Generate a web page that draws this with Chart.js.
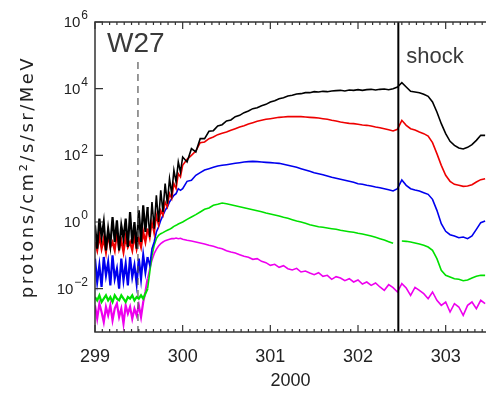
<!DOCTYPE html>
<html>
<head>
<meta charset="utf-8">
<script src="https://cdn.jsdelivr.net/npm/chart.js@4.4.1/dist/chart.umd.min.js"></script>
<style>
  html, body { margin: 0; padding: 0; background: #fff; }
  canvas { display: block; }
</style>
</head>
<body>
<canvas id="fluxChart" width="486" height="394"></canvas>
<script>
// day of year 2000. The noisy start (299.000-299.975) is read every 0.025 day,
// the rest (300.00-303.45) every 0.05 day.
const earlyStart = 299.0;
const earlyStep = 0.025;
const mainStart = 300.0;
const mainStep = 0.05;

// log10 of the proton intensity in each channel
const blackEarly = [
  -0.1, -0.8, 0.1, -0.45, 0.0, -0.85, -0.2, -0.7, 0.15, -0.6,
  0.05, -0.85, -0.1, -0.5, 0.1, -0.75, 0.3, -0.65, 0.0, -0.8,
  0.35, -0.6, 0.5, -0.3, 0.45, -0.45, 0.6, -0.2,
  0.8, 0.0, 0.95, 0.3, 1.15, 0.55, 1.3, 0.85,
  1.55, 1.2, 1.8, 1.5
];
const blackMain = [
  1.95, 1.8, 2.2, 2.1, 2.5, 2.5, 2.72, 2.74, 2.88, 2.92,
  3.03, 3.06, 3.16, 3.2, 3.28, 3.33, 3.4, 3.43, 3.49, 3.53,
  3.6, 3.64, 3.7, 3.73, 3.78, 3.8, 3.84, 3.85, 3.88, 3.88,
  3.91, 3.9, 3.92, 3.91, 3.93, 3.94, 3.95, 3.93, 3.96, 3.95,
  3.97, 3.95, 3.97, 3.98, 3.96, 3.98, 3.99, 3.97, 4.0, 4.05,
  4.18, 4.05, 3.92, 3.9, 3.88, 3.83, 3.77, 3.6, 3.3, 2.95,
  2.65, 2.42, 2.3, 2.22, 2.19, 2.24, 2.32, 2.45, 2.6, 2.6
];
const redEarly = [
  -0.6, -0.85, -0.4, -0.8, -0.5, -0.9, -0.35, -0.75, -0.6, -0.85,
  -0.3, -0.8, -0.55, -0.9, -0.45, -0.75, -0.6, -0.85, -0.4, -0.8,
  -0.5, -0.75, -0.3, -0.6, -0.2, -0.5, 0.0, -0.35,
  0.2, -0.1, 0.35, 0.2, 0.6, 0.45, 0.85, 0.7,
  1.15, 1.0, 1.45, 1.35
];
const redMain = [
  1.7, 1.88, 2.0, 2.13, 2.38, 2.4, 2.5, 2.55, 2.62, 2.66,
  2.7, 2.75, 2.8, 2.85, 2.89, 2.94, 2.98, 3.02, 3.05, 3.08,
  3.1, 3.12, 3.14, 3.15, 3.16, 3.16, 3.16, 3.16, 3.15, 3.14,
  3.13, 3.12, 3.1, 3.08, 3.05, 3.03, 3.0, 2.98, 2.96, 2.95,
  2.93, 2.91, 2.9, 2.88, 2.85, 2.83, 2.8, 2.77, 2.73, 2.78,
  3.05, 2.9, 2.8, 2.76, 2.7, 2.65, 2.58, 2.38, 2.05, 1.7,
  1.4, 1.22, 1.13, 1.1, 1.07, 1.08, 1.12, 1.2, 1.27, 1.3
];
const blueEarly = [
  -1.1, -1.8, -1.3, -1.95, -1.05, -1.6, -1.2, -1.9, -1.0, -1.7,
  -1.4, -2.0, -1.1, -1.75, -1.25, -1.9, -1.05, -1.65, -1.3, -1.85,
  -1.1, -1.7, -1.0, -1.5, -1.05, -1.3, -0.8, -0.6,
  -0.3, -0.15, 0.05, 0.2, 0.35, 0.45, 0.6, 0.7,
  0.8, 0.85, 1.0, 0.95
];
const blueMain = [
  1.0, 1.22, 1.25, 1.4, 1.48, 1.56, 1.6, 1.64, 1.68, 1.7,
  1.72, 1.74, 1.76, 1.78, 1.8, 1.81, 1.82, 1.81, 1.8, 1.79,
  1.78, 1.77, 1.76, 1.73, 1.7, 1.67, 1.64, 1.6, 1.56, 1.52,
  1.48, 1.45, 1.42, 1.38, 1.34, 1.31, 1.28, 1.25, 1.22, 1.19,
  1.15, 1.13, 1.1, 1.08, 1.05, 1.03, 1.0, 0.97, 0.93, 1.0,
  1.26, 1.1, 1.0, 0.96, 0.93, 0.88, 0.83, 0.68, 0.35, -0.05,
  -0.28, -0.38, -0.42, -0.47, -0.45, -0.5, -0.42, -0.22, -0.02, 0.03
];
const greenEarly = [
  -2.25, -2.35, -2.2, -2.4, -2.3, -2.2, -2.35, -2.25, -2.4, -2.2,
  -2.3, -2.35, -2.2, -2.3, -2.4, -2.25, -2.3, -2.2, -2.35, -2.25,
  -2.3, -2.2, -2.3, -2.15, -2.0, -1.5, -1.0, -0.7,
  -0.5, -0.4, -0.35, -0.32, -0.28, -0.25, -0.22, -0.18,
  -0.13, -0.1, -0.06, -0.03
];
const greenMain = [
  0.0, 0.08, 0.15, 0.22, 0.3, 0.38, 0.42, 0.5, 0.53, 0.57,
  0.55, 0.52, 0.49, 0.46, 0.43, 0.4, 0.37, 0.34, 0.31, 0.27,
  0.24, 0.21, 0.18, 0.14, 0.11, 0.07, 0.03, 0.0, -0.04, -0.08,
  -0.11, -0.14, -0.16, -0.18, -0.2, -0.22, -0.25, -0.27, -0.29, -0.31,
  -0.34, -0.36, -0.39, -0.42, -0.46, -0.5, -0.54, -0.59, -0.64, null,
  -0.57, -0.58, -0.6, -0.63, -0.66, -0.7, -0.75, -0.85, -1.1, -1.45,
  -1.6, -1.65, -1.7, -1.72, -1.76, -1.74, -1.68, -1.63, -1.6, -1.6
];
const magentaEarly = [
  -2.5, -2.9, -2.45, -2.7, -3.0, -2.55, -2.8, -2.5, -2.95, -2.6,
  -2.45, -2.85, -2.6, -3.05, -2.5, -2.75, -2.55, -2.9, -2.6, -2.8,
  -2.5, -2.85, -2.4, -2.1, -1.7, -1.4, -1.15, -0.95,
  -0.82, -0.72, -0.65, -0.6, -0.56, -0.54, -0.52, -0.5,
  -0.5, -0.48, -0.5, -0.49
];
const magentaMain = [
  -0.52, -0.55, -0.57, -0.6, -0.63, -0.66, -0.7, -0.73, -0.77, -0.8,
  -0.86, -0.9, -0.93, -0.98, -1.03, -1.06, -1.12, -1.1, -1.18, -1.22,
  -1.3, -1.27, -1.36, -1.31, -1.4, -1.44, -1.39, -1.5, -1.47, -1.53,
  -1.58, -1.52, -1.63, -1.6, -1.72, -1.64, -1.68, -1.76, -1.7, -1.8,
  -1.74, -1.86, -1.8, -1.9, -1.83, -1.95, -2.05, -1.88, -1.97, -2.1,
  -1.85, -1.98, -2.2, -1.96, -2.05, -2.15, -2.3, -2.1, -2.35, -2.5,
  -2.4, -2.7, -2.45, -2.55, -2.8, -2.5, -2.4, -2.6, -2.35, -2.45
];

const xTickDays = [299, 300, 301, 302, 303];
const yTickExps = [-2, 0, 2, 4, 6];
const w27Day = 299.49;
const shockDay = 302.46;

function toPoints(logs, start, step) {
  return logs.map((v, i) => ({
    x: start + i * step,
    y: v === null ? null : Math.pow(10, v)
  }));
}

function series(early, main) {
  return toPoints(early, earlyStart, earlyStep).concat(toPoints(main, mainStart, mainStep));
}

function sup(n) {
  return n < 0 ? '\u2212' + (-n) : String(n);
}

const axisDecor = {
  id: 'axisDecor',
  afterDraw(chart) {
    const { ctx, chartArea: a, scales: { x, y } } = chart;
    ctx.save();

    // event lines
    const wx = x.getPixelForValue(w27Day);
    ctx.strokeStyle = '#555';
    ctx.lineWidth = 1.2;
    ctx.setLineDash([7, 5]);
    ctx.beginPath();
    ctx.moveTo(wx, 62);
    ctx.lineTo(wx, a.bottom);
    ctx.stroke();
    ctx.setLineDash([]);

    const sx = x.getPixelForValue(shockDay);
    ctx.strokeStyle = '#000';
    ctx.lineWidth = 2;
    ctx.beginPath();
    ctx.moveTo(sx, a.top);
    ctx.lineTo(sx, a.bottom);
    ctx.stroke();

    // frame (right side is cut off in the original)
    ctx.strokeStyle = '#333';
    ctx.lineWidth = 1.5;
    ctx.beginPath();
    ctx.moveTo(a.right + 2, a.top);
    ctx.lineTo(a.left, a.top);
    ctx.lineTo(a.left, a.bottom);
    ctx.lineTo(a.right + 2, a.bottom);
    ctx.stroke();

    // inward ticks, every 2 hours on bottom and top
    ctx.lineWidth = 1.2;
    ctx.beginPath();
    for (let k = 0; ; k++) {
      const d = xTickDays[0] + k / 12;
      if (d > x.max) break;
      const px = x.getPixelForValue(d);
      const len = k % 12 === 0 ? 7 : 3;
      ctx.moveTo(px, a.bottom);
      ctx.lineTo(px, a.bottom - len);
      ctx.moveTo(px, a.top);
      ctx.lineTo(px, a.top + len);
    }
    yTickExps.forEach(e => {
      const py = y.getPixelForValue(Math.pow(10, e));
      ctx.moveTo(a.left, py);
      ctx.lineTo(a.left + 8, py);
    });
    ctx.stroke();

    ctx.fillStyle = '#222';

    // x tick labels and title
    ctx.font = '18px "Liberation Sans", Arial, sans-serif';
    ctx.textAlign = 'center';
    ctx.textBaseline = 'middle';
    xTickDays.forEach(d => {
      ctx.fillText(String(d), x.getPixelForValue(d), 357);
    });
    ctx.fillText('2000', (a.left + a.right) / 2, 381);

    // y tick labels: 10 with a raised exponent
    yTickExps.forEach(e => {
      const py = y.getPixelForValue(Math.pow(10, e));
      ctx.font = '12px "Liberation Sans", Arial, sans-serif';
      ctx.textAlign = 'right';
      const s = sup(e);
      const w = ctx.measureText(s).width;
      ctx.fillText(s, 88, py - 6);
      ctx.font = '15px "Liberation Sans", Arial, sans-serif';
      ctx.fillText('10', 87 - w, py + 1);
    });

    // y title
    ctx.save();
    ctx.translate(28, 177);
    ctx.rotate(-Math.PI / 2);
    ctx.font = '18px "DejaVu Sans", sans-serif';
    ctx.letterSpacing = '2.5px';
    ctx.textAlign = 'center';
    ctx.fillText('protons/cm\u00b2/s/sr/MeV', 0, 0);
    ctx.restore();

    // annotations
    ctx.fillStyle = '#3a3a3a';
    ctx.textAlign = 'left';
    ctx.textBaseline = 'alphabetic';
    ctx.font = '28px "Liberation Sans", Arial, sans-serif';
    ctx.fillText('W27', 107, 52);
    ctx.font = '22px "Liberation Sans", Arial, sans-serif';
    ctx.fillText('shock', sx + 8, 63);

    ctx.restore();
  }
};

// the low-count stretch before the rise is drawn a bit heavier so its spikes fill in
const lineStyle = (color) => ({
  borderColor: color,
  borderWidth: 1.6,
  pointRadius: 0,
  tension: 0,
  spanGaps: false,
  segment: {
    borderWidth: c => (c.p1.parsed.x <= 299.6 ? 2.2 : undefined)
  }
});

new Chart(document.getElementById('fluxChart'), {
  type: 'line',
  data: {
    datasets: [
      { label: 'ch1', data: series(blackEarly, blackMain), ...lineStyle('#000000') },
      { label: 'ch2', data: series(redEarly, redMain), ...lineStyle('#ee0000') },
      { label: 'ch3', data: series(blueEarly, blueMain), ...lineStyle('#0000ee') },
      { label: 'ch4', data: series(greenEarly, greenMain), ...lineStyle('#00e000') },
      { label: 'ch5', data: series(magentaEarly, magentaMain), ...lineStyle('#ee00ee') }
    ]
  },
  options: {
    responsive: false,
    animation: false,
    devicePixelRatio: 1,
    layout: { padding: { left: 95, top: 22, right: 0, bottom: 62 } },
    plugins: {
      legend: { display: false },
      tooltip: { enabled: false }
    },
    scales: {
      x: { type: 'linear', display: false, min: 299, max: 303.46 },
      y: { type: 'logarithmic', display: false, min: Math.pow(10, -3.3), max: 1e6 }
    }
  },
  plugins: [axisDecor]
});
</script>
</body>
</html>
